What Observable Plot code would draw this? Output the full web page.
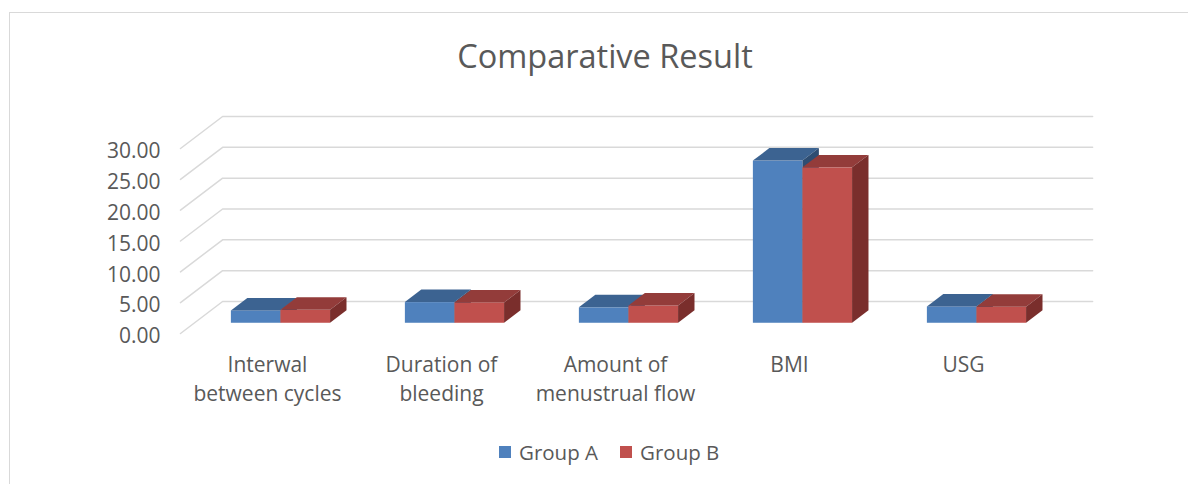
<!DOCTYPE html>
<html>
<head>
<meta charset="utf-8">
<script src="https://cdn.jsdelivr.net/npm/d3@7"></script>
<script src="https://cdn.jsdelivr.net/npm/@observablehq/plot@0.6"></script>
<style>
  body { margin:0; background:#fff; width:1188px; height:484px; position:relative; overflow:hidden; font-family:"Open Sans", sans-serif; color:#595959; }
  #frame { position:absolute; left:9px; top:12px; width:1200px; height:500px; border-left:1.5px solid #d9d9d9; border-top:1.5px solid #d9d9d9; }
  #title { position:absolute; left:0; width:1210px; top:34px; text-align:center; font-size:32.5px; line-height:44px; color:#595959; }
  #chart { position:absolute; left:0; top:100px; }
  #legend { position:absolute; left:499px; top:437px; display:flex; align-items:center; font-size:20.5px; line-height:30px; color:#595959; }
  #legend .sw { width:12px; height:12px; display:inline-block; margin-right:8px; }
  #legend .item { display:flex; align-items:center; margin-right:22px; }
</style>
</head>
<body>
<div id="frame"></div>
<div id="title">Comparative Result</div>
<div id="chart"></div>
<div id="legend"></div>
<script>
// ---- data ----
const categories = ["Interwal\nbetween cycles", "Duration of\nbleeding", "Amount of\nmenustrual flow", "BMI", "USG"];
const groupA = [2.0, 3.35, 2.5, 26.3, 2.65];
const groupB = [2.1, 3.3, 2.8, 25.2, 2.6];
const seriesNames = ["Group A", "Group B"];
const yTicks = [0, 5, 10, 15, 20, 25, 30];

// ---- style / pseudo-3D geometry ----
const colors = {
  "Group A": {front: "#4f81bd", top: "#3c6391", side: "#2e4d72"},
  "Group B": {front: "#c0504d", top: "#933c3a", side: "#7a2e2c"}
};
const DX = 0.242;   // wall depth in category units
const DY = 5.19;    // wall depth in value units
const BAR_W = 0.285;
const F0 = 0.32, F1 = 0.71;

function faces(values, s) {
  const name = seriesNames[s];
  const ox = F0 * DX, oy = F0 * DY, ddx = (F1 - F0) * DX, ddy = (F1 - F0) * DY;
  const front = [], top = [], side = [];
  values.forEach((v, i) => {
    const x0 = i + 0.5 + (s - 1) * BAR_W + ox, x1 = x0 + BAR_W;
    front.push({x1: x0, x2: x1, y1: oy, y2: v + oy, name});
    top.push({id: i, y: v + oy, x1: x0, x2: x1});
    top.push({id: i, y: v + oy + ddy, x1: x0 + ddx, x2: x1 + ddx});
    side.push({id: i, x: x1, y1: oy, y2: v + oy});
    side.push({id: i, x: x1 + ddx, y1: oy + ddy, y2: v + oy + ddy});
  });
  return {front, top, side, c: colors[name]};
}

const grid = [];
yTicks.forEach(v => {
  grid.push({v, x: 0, y: v});
  grid.push({v, x: DX, y: v + DY});
  grid.push({v, x: categories.length + DX, y: v + DY});
});

const A = faces(groupA, 0), B = faces(groupB, 1);
function barMarks(F) {
  return [
    Plot.rect(F.front, {x1: "x1", x2: "x2", y1: "y1", y2: "y2", fill: F.c.front}),
    Plot.areaX(F.top, {y: "y", x1: "x1", x2: "x2", z: "id", fill: F.c.top}),
    Plot.areaY(F.side, {x: "x", y1: "y1", y2: "y2", z: "id", fill: F.c.side})
  ];
}

const fmt = d3.format(".2f");
const chart = Plot.plot({
  width: 1188,
  height: 310,
  marginLeft: 180,
  marginRight: 138,
  marginTop: 48,
  marginBottom: 77,
  style: {fontFamily: "'Open Sans', sans-serif", background: "transparent", overflow: "visible"},
  x: {type: "linear", domain: [0, categories.length], axis: null},
  y: {type: "linear", domain: [0, 30], axis: null},
  marks: [
    Plot.line(grid, {x: "x", y: "y", z: "v", stroke: "#d9d9d9", strokeWidth: 1.5}),
    ...barMarks(A),
    ...barMarks(B),
    Plot.text(yTicks, {x: 0, y: d => d, text: d => fmt(d), textAnchor: "end", dx: -20, dy: 3, fontSize: 21, fill: "#595959"}),
    Plot.text(categories, {x: (d, i) => i + 0.5, y: 0, text: d => d, lineAnchor: "top", dy: 18, fontSize: 21, lineHeight: 1.38, fill: "#595959"})
  ]
});
document.getElementById("chart").appendChild(chart);

const legend = document.getElementById("legend");
seriesNames.forEach(n => {
  const it = document.createElement("span");
  it.className = "item";
  it.innerHTML = `<span class="sw" style="background:${colors[n].front}"></span>${n}`;
  legend.appendChild(it);
});
</script>
</body>
</html>
